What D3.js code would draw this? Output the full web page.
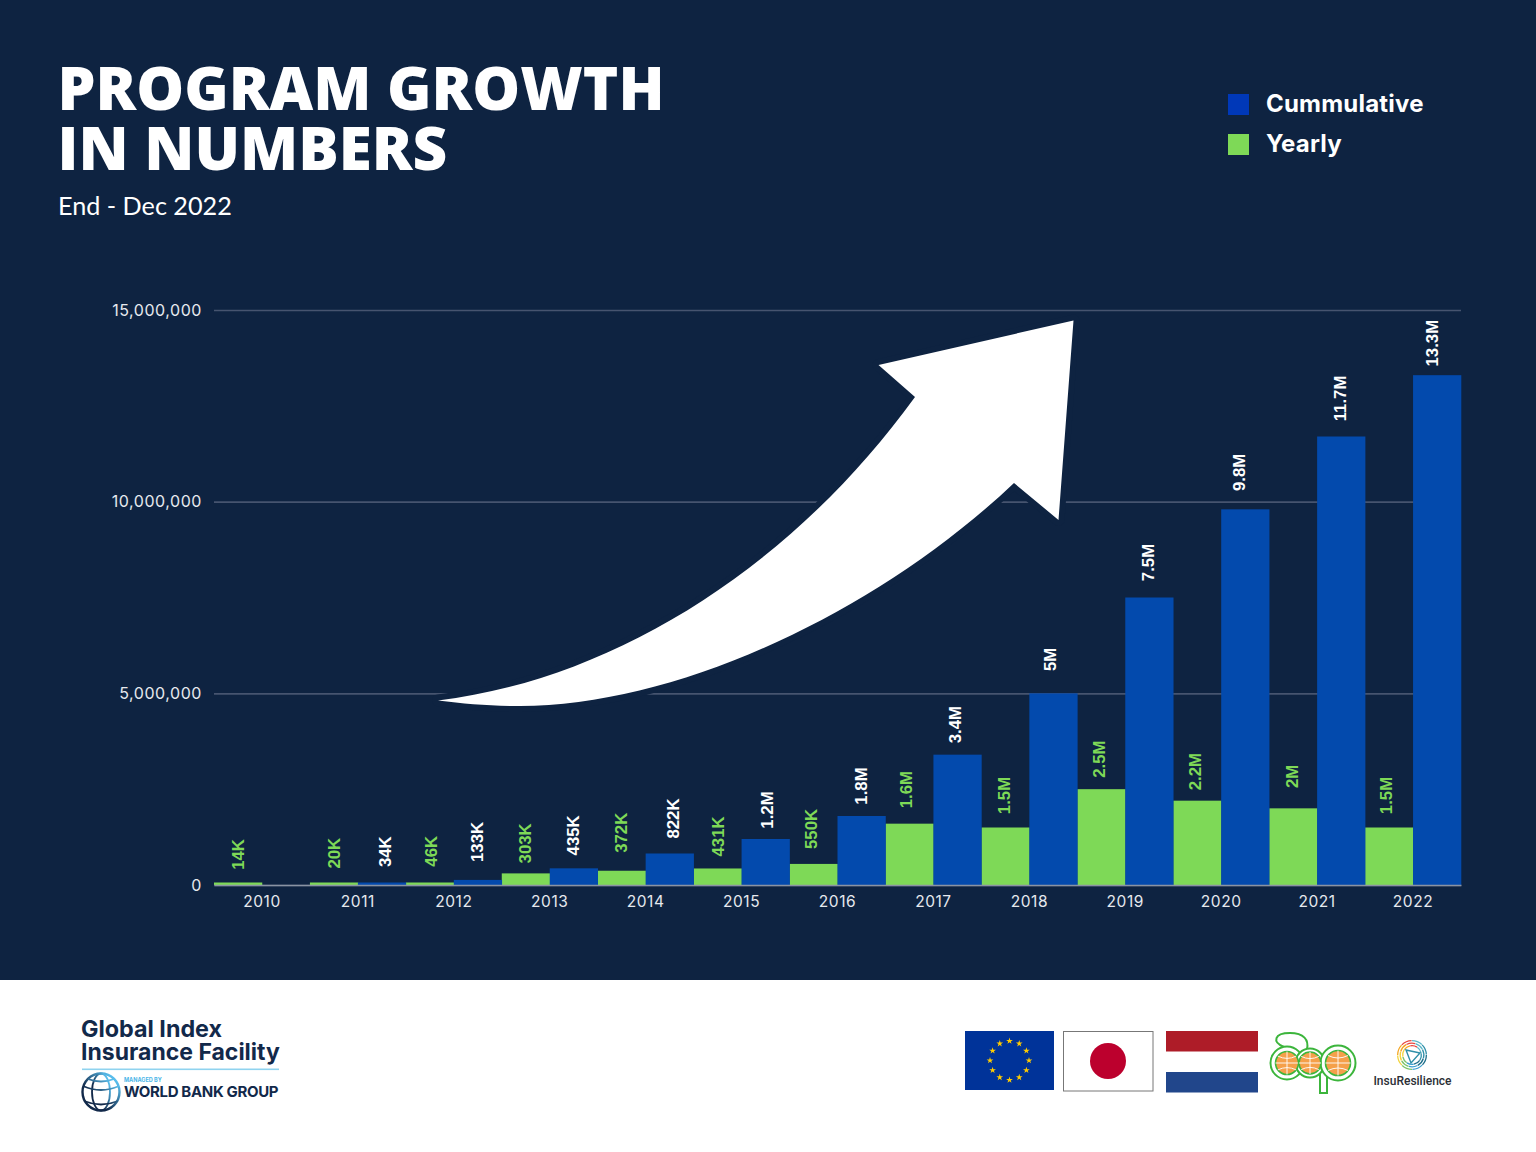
<!DOCTYPE html>
<html>
<head>
<meta charset="utf-8">
<script src="https://cdn.jsdelivr.net/npm/d3@7"></script>
<style>
  body { margin: 0; background: #ffffff; }
  svg { display: block; }
</style>
</head>
<body>
<div id="chart"></div>
<script>
// chart data
const years = ["2010", "2011", "2012", "2013", "2014", "2015", "2016", "2017", "2018", "2019", "2020", "2021", "2022"];
const yearly = [14000, 20000, 46000, 303000, 372000, 431000, 550000, 1600000, 1500000, 2500000, 2200000, 2000000, 1500000];
const cumulative = [null, 34000, 133000, 435000, 822000, 1200000, 1800000, 3400000, 5000000, 7500000, 9800000, 11700000, 13300000];
const yTicks = [0, 5000000, 10000000, 15000000];
const legendNames = ["Cummulative", "Yearly"];

// the value labels were placed by hand in the original, so each one gets a small nudge
const yearlyNudgeX = [0, 0, 1, -1, -1, 0, -3, -3, -1, -2, -2, -1, -3];
const yearlyNudgeY = [3, 2, 1, 3, -5, 1, -2, -1, 1, 3, 4, 1, 1];
const cumulativeNudgeX = [0, 3, -1, -1, 3, 1, 0, -2, -3, -1, -6, -1, -5];
const cumulativeNudgeY = [0, 1, -5, 0, -2, 4, 3, 3, -1, -2, -4, -5, 1];

const bg = "#0e2341", navy = "#12294a", blue = "#034aad", green = "#7ed957";

const svg = d3.select("#chart").append("svg")
    .attr("width", 1536)
    .attr("height", 1152);

svg.append("rect").attr("width", 1536).attr("height", 980).attr("fill", bg);
svg.append("rect").attr("y", 980).attr("width", 1536).attr("height", 172).attr("fill", "#ffffff");

// title block
const titleFont = "'Open Sans', sans-serif";
svg.append("text").attr("x", 57.5).attr("y", 110).text("PROGRAM GROWTH")
    .attr("font-family", titleFont).attr("font-weight", 800).attr("font-size", 60.2).attr("fill", "#fff");
svg.append("text").attr("x", 57.5).attr("y", 170).text("IN NUMBERS")
    .attr("font-family", titleFont).attr("font-weight", 800).attr("font-size", 60.2).attr("fill", "#fff");
svg.append("text").attr("x", 58).attr("y", 215).text("End - Dec 2022")
    .attr("font-family", "Lato, sans-serif").attr("font-size", 25.2).attr("fill", "#fff");

// legend
const legend = svg.append("g").selectAll("g")
    .data(legendNames)
    .enter().append("g")
    .attr("transform", (d, i) => "translate(1228," + (94 + i * 40) + ")");
legend.append("rect").attr("width", 21).attr("height", 21)
    .attr("fill", (d, i) => i == 0 ? "#0038b8" : green);
legend.append("text").attr("x", 38).attr("y", 18).text(d => d)
    .attr("font-family", "Inter, sans-serif").attr("font-weight", 700).attr("font-size", 24).attr("letter-spacing", 0.2).attr("fill", "#fff");

// scales
const margin = {top: 310, left: 214, right: 1461, bottom: 885};
const x = d3.scaleBand().domain(years).range([margin.left, margin.right]);
const inner = d3.scaleBand().domain([0, 1]).range([0, x.bandwidth()]);
const y = d3.scaleLinear().domain([0, 15000000]).range([margin.bottom, margin.top]);

// grid and y axis
const yAxis = svg.append("g")
    .attr("transform", "translate(" + margin.left + ",0)")
    .call(d3.axisLeft(y).tickValues(yTicks).tickFormat(d3.format(",")).tickSize(-(margin.right - margin.left)).tickPadding(12));
yAxis.select(".domain").remove();
yAxis.selectAll("line").attr("stroke", "#46546f").attr("stroke-width", 1.6);
yAxis.selectAll("text").attr("font-family", "Inter, sans-serif").attr("font-size", 16).attr("letter-spacing", 0.55)
    .attr("dy", "0.33em").attr("fill", "#e6e9ee");

// big arrow, with a halo in the background colour that cuts the grid lines
const arrow = d3.path();
arrow.moveTo(438, 700.5);
arrow.bezierCurveTo(610, 680, 790, 570, 915, 397);
arrow.lineTo(878.5, 365);
arrow.lineTo(1073.5, 320.5);
arrow.lineTo(1058.5, 520);
arrow.lineTo(1014, 483);
arrow.bezierCurveTo(880, 610, 680, 706, 520, 706);
arrow.bezierCurveTo(490, 706, 465, 704, 438, 700.5);
arrow.closePath();
svg.append("path").attr("d", arrow.toString()).attr("fill", bg).attr("stroke", bg).attr("stroke-width", 12).attr("stroke-linejoin", "round");
svg.append("path").attr("d", arrow.toString()).attr("fill", "#ffffff");

function drawSeries(values, slot, fill, labelFill, nudgeX, nudgeY) {
    const rows = years.map((d, i) => ({year: d, value: values[i], dx: nudgeX[i], dy: nudgeY[i]})).filter(d => d.value != null);
    svg.append("g").selectAll("rect")
        .data(rows)
        .enter().append("rect")
        .attr("x", d => x(d.year) + inner(slot))
        .attr("width", inner.bandwidth() + 0.3)
        // tiny values still show as a sliver, as in the original
        .attr("y", d => Math.min(y(d.value), margin.bottom - 2.5))
        .attr("height", d => Math.max(margin.bottom - y(d.value), 2.5))
        .attr("fill", fill);
    svg.append("g").selectAll("text")
        .data(rows)
        .enter().append("text")
        .attr("transform", d => "translate(" + (x(d.year) + inner(slot) + inner.bandwidth() / 2 + 6 + d.dx) + "," + (y(d.value) - 33 + d.dy) + ") rotate(-90)")
        .attr("text-anchor", "middle")
        .attr("font-family", "'Liberation Sans', Arial, sans-serif")
        .attr("font-weight", 700)
        .attr("font-size", 16.8)
        .attr("fill", labelFill)
        .text(d => d3.format("~s")(d.value).toUpperCase());
}
drawSeries(yearly, 0, green, green, yearlyNudgeX, yearlyNudgeY);
drawSeries(cumulative, 1, blue, "#ffffff", cumulativeNudgeX, cumulativeNudgeY);

// x axis
const xAxis = svg.append("g")
    .attr("transform", "translate(0," + margin.bottom + ")")
    .call(d3.axisBottom(x).tickSize(0).tickPadding(11));
xAxis.select(".domain").attr("stroke", "#8a93a3").attr("stroke-width", 1.5);
xAxis.selectAll("text").attr("font-family", "Inter, sans-serif").attr("font-size", 15.5).attr("letter-spacing", 0.55).attr("fill", "#e6e9ee");

// footer: Global Index Insurance Facility logo
const giif = svg.append("g");
giif.append("text").attr("x", 81).attr("y", 1037).text("Global Index")
    .attr("font-family", "Inter, sans-serif").attr("font-weight", 700).attr("font-size", 23.3).attr("fill", navy);
giif.append("text").attr("x", 81).attr("y", 1060).text("Insurance Facility")
    .attr("font-family", "Inter, sans-serif").attr("font-weight", 700).attr("font-size", 23).attr("fill", navy);
giif.append("rect").attr("x", 82).attr("y", 1068.5).attr("width", 197).attr("height", 1.6).attr("fill", "#8fd3ef");
giif.append("text").attr("x", 124).attr("y", 1082).text("MANAGED BY")
    .attr("font-family", "Inter, sans-serif").attr("font-weight", 700).attr("font-size", 5.5).attr("fill", "#4ab5e8");
giif.append("text").attr("x", 124).attr("y", 1097).text("WORLD BANK GROUP")
    .attr("font-family", "Inter, sans-serif").attr("font-weight", 700).attr("font-size", 15).attr("letter-spacing", -0.35).attr("fill", navy);

const defs = svg.append("defs");
const globeGrad = defs.append("linearGradient").attr("id", "globeGrad").attr("x1", 0).attr("y1", 1).attr("x2", 1).attr("y2", 0);
globeGrad.append("stop").attr("offset", "35%").attr("stop-color", navy);
globeGrad.append("stop").attr("offset", "85%").attr("stop-color", "#58bdec");
const globe = giif.append("g").attr("fill", "none").attr("stroke", "url(#globeGrad)").attr("stroke-width", 1.8);
globe.append("circle").attr("cx", 101).attr("cy", 1092).attr("r", 18.5).attr("stroke-width", 2.4);
globe.append("ellipse").attr("cx", 101).attr("cy", 1092).attr("rx", 9).attr("ry", 18.5);
globe.append("path").attr("d", "M83,1086Q101,1094 119,1086M84,1101Q101,1108 118,1101M88,1079Q101,1084 114,1079");

// footer: flags
svg.append("rect").attr("x", 965).attr("y", 1031).attr("width", 89).attr("height", 59).attr("fill", "#003399");
svg.append("g").selectAll("path")
    .data(d3.range(12))
    .enter().append("path")
    .attr("d", d3.symbol(d3.symbolStar, 14))
    .attr("transform", d => "translate(" + (1009.5 + 19.5 * Math.sin(d * Math.PI / 6)) + "," + (1060.5 - 19.5 * Math.cos(d * Math.PI / 6)) + ")")
    .attr("fill", "#ffcc00");

svg.append("rect").attr("x", 1063.5).attr("y", 1031.5).attr("width", 89.5).attr("height", 59.5)
    .attr("fill", "#ffffff").attr("stroke", "#777777");
svg.append("circle").attr("cx", 1108).attr("cy", 1061).attr("r", 18).attr("fill", "#bc002d");

svg.append("rect").attr("x", 1166).attr("y", 1031).attr("width", 92).attr("height", 20.5).attr("fill", "#ae1c28");
svg.append("rect").attr("x", 1166).attr("y", 1072).attr("width", 92).attr("height", 20.5).attr("fill", "#21468b");

// footer: acp logo
const acpGreen = "#3cb53c";
const acp = svg.append("g").attr("fill", "none").attr("stroke", acpGreen).attr("stroke-width", 2);
acp.append("path").attr("d", "M1284,1047C1272,1042 1274,1033 1290,1033C1304,1033 1309,1040 1307,1049");
acp.append("path").attr("fill", "#fff").attr("d", "M1320,1070V1093H1327V1075");
[[1287, 1063, 16.5], [1310, 1063, 14.5], [1338, 1063, 17.5]].forEach(d => {
    acp.append("circle").attr("cx", d[0]).attr("cy", d[1]).attr("r", d[2]).attr("fill", "#fff");
});
[[1287, 1063, 11.5], [1310, 1063, 11], [1338, 1063, 12.5]].forEach(d => {
    const ball = svg.append("g");
    ball.append("circle").attr("cx", d[0]).attr("cy", d[1]).attr("r", d[2]).attr("fill", "#f5a04a").attr("stroke", acpGreen).attr("stroke-width", 1.6);
    ball.append("path").attr("fill", "none").attr("stroke", "#ffffff").attr("stroke-width", 0.9)
        .attr("d", "M" + (d[0] - d[2]) + "," + d[1] + "H" + (d[0] + d[2]) +
            "M" + (d[0] - d[2] * 0.8) + "," + (d[1] - d[2] * 0.6) + "Q" + d[0] + "," + (d[1] - d[2] * 0.2) + " " + (d[0] + d[2] * 0.8) + "," + (d[1] - d[2] * 0.6) +
            "M" + (d[0] - d[2] * 0.8) + "," + (d[1] + d[2] * 0.6) + "Q" + d[0] + "," + (d[1] + d[2] * 0.2) + " " + (d[0] + d[2] * 0.8) + "," + (d[1] + d[2] * 0.6) +
            "M" + d[0] + "," + (d[1] - d[2]) + "V" + (d[1] + d[2]));
});

// footer: InsuResilience logo
const ringColors = ["#5fb8c9", "#2f8fa8", "#1f6f8b", "#3a9fd0", "#7cc36a", "#f2d43c", "#f5a623", "#e8483f"];
const ringG = svg.append("g").attr("transform", "translate(1412,1055)");
[15, 12.5, 10].forEach((r, k) => {
    const arc = d3.arc().innerRadius(r - 1.3).outerRadius(r);
    ringG.append("g").selectAll("path")
        .data(ringColors)
        .enter().append("path")
        .attr("d", (d, i) => arc({startAngle: i * Math.PI / 4 + k * 0.3, endAngle: (i + 1) * Math.PI / 4 + k * 0.3 - 0.03}))
        .attr("fill", d => d);
});
svg.append("path").attr("d", "M1406,1050L1420,1053L1411,1063Z").attr("fill", "#ffffff").attr("stroke", "#2f8fa8").attr("stroke-width", 1.4);
svg.append("text").attr("x", 1412.5).attr("y", 1085).attr("text-anchor", "middle").text("InsuResilience")
    .attr("font-family", "Roboto, sans-serif").attr("font-weight", 500).attr("font-size", 12).attr("fill", "#2b2f36");
</script>
</body>
</html>
